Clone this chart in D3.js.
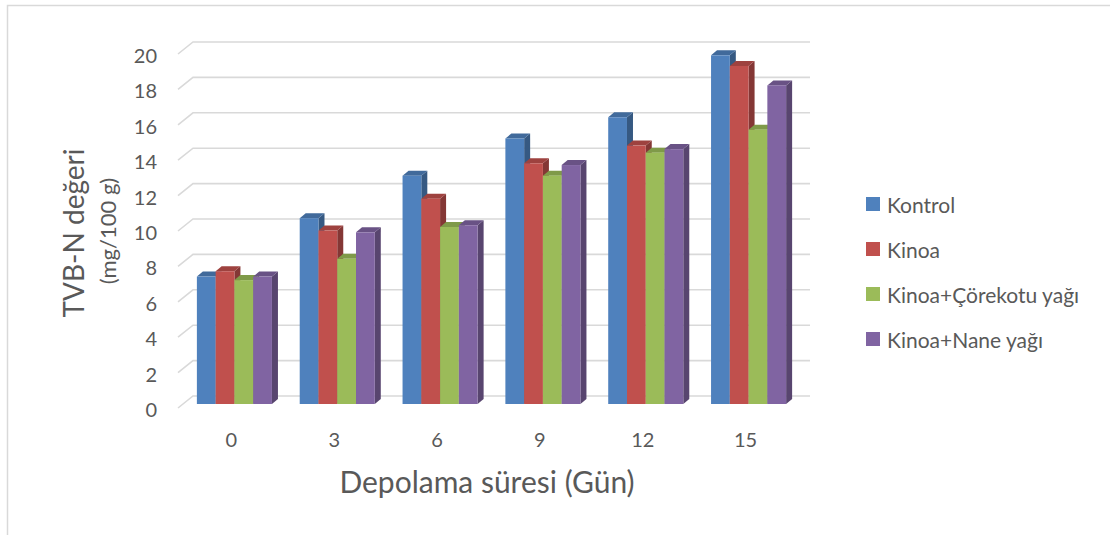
<!DOCTYPE html>
<html>
<head>
<meta charset="utf-8">
<script src="https://cdn.jsdelivr.net/npm/d3@7"></script>
<style>
  html, body { margin: 0; padding: 0; background: #ffffff; }
  svg { display: block; }
  text { font-family: Lato, "Noto Sans", sans-serif; fill: #595959; }
</style>
</head>
<body>
<svg id="chart" width="1110" height="535"></svg>
<script>
// Storage days (x categories)
const categories = ["0", "3", "6", "9", "12", "15"];

// TVB-N values (mg/100 g) per treatment
const kontrol    = [7.2, 10.5, 12.9, 15.0, 16.2, 19.7];
const kinoa      = [7.5, 9.8, 11.6, 13.6, 14.6, 19.1];
const corekotu   = [7.0, 8.2, 10.0, 12.9, 14.2, 15.5];
const nane       = [7.2, 9.7, 10.1, 13.5, 14.4, 18.0];

const seriesNames  = ["Kontrol", "Kinoa", "Kinoa+Çörekotu yağı", "Kinoa+Nane yağı"];
const seriesValues = [kontrol, kinoa, corekotu, nane];
const seriesColors = ["#4F81BD", "#C0504D", "#9BBB59", "#8064A2"];

const yTicks = [0, 2, 4, 6, 8, 10, 12, 14, 16, 18, 20];

const svg = d3.select("#chart");

// Outer chart frame (top and left edges visible)
svg.append("path")
  .attr("d", "M7.5,535 L7.5,5.5 L1110,5.5")
  .attr("fill", "none")
  .attr("stroke", "#d9d9d9")
  .attr("stroke-width", 1.5);

// Oblique 3D projection: full depth shifts right and up
const depthDX = 15, depthDY = 12;
const frontLeft = 178, frontRight = 795;
const backRight = 810;

// Value scales for the front plane, back wall, and the bar front faces
const yFront = d3.scaleLinear().domain([0, 20]).range([408, 54]);
const yBack  = d3.scaleLinear().domain([0, 20]).range([408 - depthDY, 54 - depthDY]);
const barShift = 5, barLift = 4;
const yBar   = d3.scaleLinear().domain([0, 20]).range([408 - barLift, 54 - barLift]);

const x0 = d3.scaleBand().domain(categories).range([frontLeft, frontRight])
  .paddingInner(0.27).paddingOuter(0.135);
const x1 = d3.scaleBand().domain(seriesNames).range([0, x0.bandwidth()]).padding(0);

// Gridlines: short floor diagonal then back-wall horizontal
const grid = svg.append("g");
yTicks.forEach(t => {
  grid.append("path")
    .attr("d", `M${frontLeft},${yFront(t)} L${frontLeft + depthDX},${yBack(t)} L${backRight},${yBack(t)}`)
    .attr("fill", "none")
    .attr("stroke", "#d9d9d9")
    .attr("stroke-width", 1.6);
});

// Y tick labels
svg.append("g").selectAll("text")
  .data(yTicks).join("text")
  .attr("x", 157)
  .attr("y", d => yFront(d) + 1)
  .attr("text-anchor", "end")
  .attr("dominant-baseline", "central")
  .style("font-size", "20px")
  .text(d => d);

// X tick labels
svg.append("g").selectAll("text")
  .data(categories).join("text")
  .attr("x", d => x0(d) + x0.bandwidth() / 2 + 2)
  .attr("y", 447)
  .attr("text-anchor", "middle")
  .style("font-size", "20px")
  .text(d => d);

// 3D bars: side, top, front faces
const bdx = 6, bdy = 5;
const bars = svg.append("g");
categories.forEach((cat, ci) => {
  seriesNames.forEach((name, si) => {
    const v = seriesValues[si][ci];
    const x = x0(cat) + x1(name) + barShift;
    const w = x1.bandwidth();
    const yt = yBar(v), yb = yBar(0);
    const base = d3.color(seriesColors[si]);
    const g = bars.append("g");
    g.append("path")
      .attr("d", `M${x + w},${yt} L${x + w + bdx},${yt - bdy} L${x + w + bdx},${yb - bdy} L${x + w},${yb} Z`)
      .attr("fill", base.darker(1.05));
    g.append("path")
      .attr("d", `M${x},${yt} L${x + bdx},${yt - bdy} L${x + w + bdx},${yt - bdy} L${x + w},${yt} Z`)
      .attr("fill", base.darker(0.55));
    g.append("rect")
      .attr("x", x).attr("y", yt)
      .attr("width", w).attr("height", yb - yt)
      .attr("fill", base);
  });
});

// Axis titles
svg.append("text")
  .attr("transform", "translate(84,233) rotate(-90)")
  .attr("text-anchor", "middle")
  .style("font-size", "28px")
  .text("TVB-N değeri");

svg.append("text")
  .attr("transform", "translate(116,231) rotate(-90)")
  .attr("text-anchor", "middle")
  .style("font-size", "22px")
  .text("(mg/100 g)");

svg.append("text")
  .attr("x", 487)
  .attr("y", 493)
  .attr("text-anchor", "middle")
  .style("font-size", "30px")
  .text("Depolama süresi (Gün)");

// Legend
const legend = svg.append("g");
seriesNames.forEach((name, i) => {
  const cy = 204 + i * 45;
  legend.append("rect")
    .attr("x", 866).attr("y", cy - 7)
    .attr("width", 14).attr("height", 14)
    .attr("fill", seriesColors[i]);
  legend.append("text")
    .attr("x", 887).attr("y", cy)
    .attr("dominant-baseline", "central")
    .style("font-size", "21px")
    .text(name);
});
</script>
</body>
</html>
